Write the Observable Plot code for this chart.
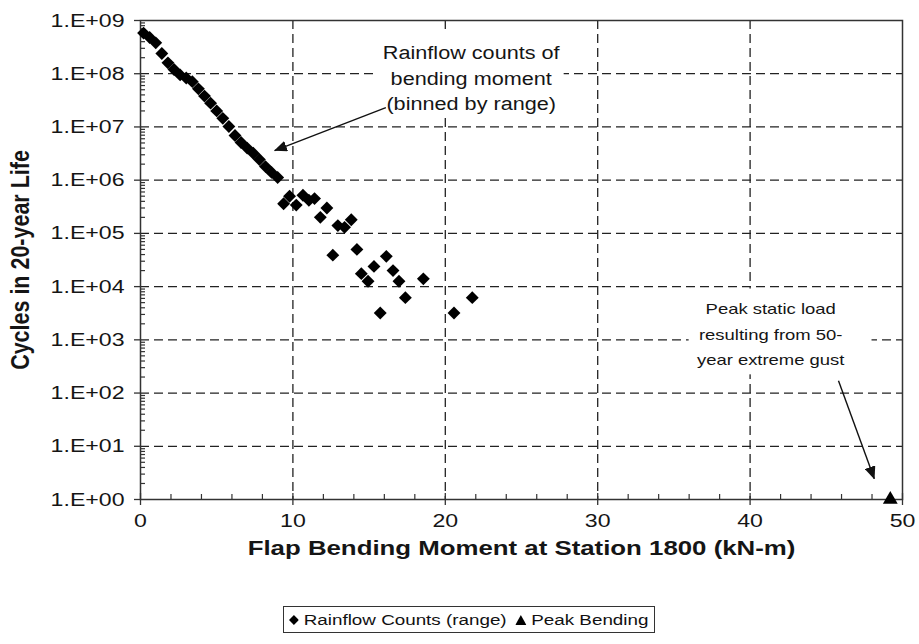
<!DOCTYPE html>
<html><head><meta charset="utf-8">
<script src="https://cdn.jsdelivr.net/npm/d3@7"></script>
<script src="https://cdn.jsdelivr.net/npm/@observablehq/plot@0.6"></script>
<style>
body{margin:0;background:#fff;font-family:"Liberation Sans",Arial,sans-serif;}
#wrap{width:919px;height:644px;position:relative;background:#fff;}
#legend{position:absolute;left:283px;top:606px;box-sizing:border-box;width:372px;height:27px;border:1px solid #333;overflow:hidden;}
#legend .inner{position:absolute;left:5px;top:0;height:25px;display:flex;align-items:center;font-size:15.3px;color:#111;white-space:nowrap;transform:scaleX(1.23);transform-origin:0 50%;}
#legend span.item{display:inline-flex;align-items:center;margin-right:7px;}
#legend span.item:last-child{margin-right:0;}
#legend svg{margin-right:4px;}
</style></head><body>
<div id="wrap"><div id="chart"></div><div id="legend"><div class="inner"></div></div></div>
<script>
// Rainflow counts (binned by range)
const rainflowX = [0.2,0.6,1.0,1.4,1.8,2.2,2.6,3.0,3.4,3.8,4.2,4.6,5.0,5.4,5.8,6.2,6.6,7.0,7.4,7.8,8.2,8.6,9.0,
  9.39,9.78,10.22,10.66,11.05,11.42,11.80,12.23,12.62,12.95,13.39,13.83,14.2,14.49,14.93,15.32,15.73,16.13,16.57,16.96,17.38,18.56,20.57,21.77];
const rainflowY = [5.8e8,4.8e8,3.8e8,2.4e8,1.6e8,1.2e8,9.5e7,8.3e7,7.1e7,5.2e7,3.8e7,2.8e7,2.0e7,1.45e7,1.02e7,6.9e6,5.1e6,4.0e6,3.2e6,2.45e6,1.8e6,1.4e6,1.12e6,
  3.6e5,5.0e5,3.4e5,5.2e5,4.2e5,4.5e5,2.0e5,3.0e5,3.9e4,1.4e5,1.3e5,1.8e5,5.0e4,1.75e4,1.26e4,2.4e4,3.2e3,3.7e4,2.0e4,1.26e4,6.2e3,1.4e4,3.2e3,6.2e3];
// Peak bending (50-year extreme gust)
const peakX = [49.2];
const peakY = [1];

// Axis ticks and labels
const xTicks = [0,10,20,30,40,50];
const xTickLabels = ["0","10","20","30","40","50"];
const xMinorTicks = [2,4,6,8,12,14,16,18,22,24,26,28,32,34,36,38,42,44,46,48];
const yTicks = [1,1e1,1e2,1e3,1e4,1e5,1e6,1e7,1e8,1e9];
const yTickLabels = ["1.E+00","1.E+01","1.E+02","1.E+03","1.E+04","1.E+05","1.E+06","1.E+07","1.E+08","1.E+09"];
const yMinorTicks = [];
for (let k = 0; k < 9; k++) for (let m = 2; m <= 9; m++) yMinorTicks.push(m * Math.pow(10, k));

// Annotations
const annoText = ["Rainflow counts of\nbending moment\n(binned by range)", "Peak static load\nresulting from 50-\nyear extreme gust"];
const annoX = [21.7, 41.35];
const annoY = [8.85e7, 1426];
const boxX1 = [15.5, 36.0], boxX2 = [27.8, 48.0];
const boxY1 = [1.6e7, 220], boxY2 = [5.6e8, 9000];
const arrowX1 = [16.1, 45.8], arrowY1 = [2.3e7, 170];
const arrowX2 = [8.8, 48.15], arrowY2 = [3.6e6, 2.45];

const xTitle = "Flap Bending Moment at Station 1800 (kN-m)";
const yTitle = "Cycles in 20-year Life";
const seriesNames = ["Rainflow Counts (range)", "Peak Bending"];

const rainflow = rainflowX.map((x, i) => ({x, y: rainflowY[i]}));
const peak = peakX.map((x, i) => ({x, y: peakY[i]}));
const annos = annoText.map((t, i) => ({t, x: annoX[i], y: annoY[i]}));
const boxes = boxX1.map((x1, i) => ({x1, x2: boxX2[i], y1: boxY1[i], y2: boxY2[i]}));
const arrows = arrowX1.map((x1, i) => ({x1, y1: arrowY1[i], x2: arrowX2[i], y2: arrowY2[i]}));

const ink = "#151515";
const gridStyle = {stroke: "#222", strokeOpacity: 1, strokeWidth: 1.3, strokeDasharray: "9,5"};
const stretch = 1.23;

const plot = Plot.plot({
  width: 919, height: 590,
  marginLeft: 140, marginRight: 17, marginTop: 20, marginBottom: 91,
  style: {fontFamily: "'Liberation Sans', Arial, sans-serif", fontSize: "18px", color: ink, background: "white", overflow: "visible"},
  x: {domain: [0, 50], label: null},
  y: {type: "log", domain: [1, 1e9], label: null},
  marks: [
    Plot.gridX(xTicks.slice(1, -1), gridStyle),
    Plot.gridY(yTicks.slice(1, -1), gridStyle),
    Plot.rect(boxes, {x1: "x1", x2: "x2", y1: "y1", y2: "y2", fill: "white"}),
    Plot.frame({stroke: "#333", strokeWidth: 1.5}),
    Plot.axisX(xTicks, {tickSize: 6, tickPadding: 8, fontSize: 18.8, tickFormat: d => xTickLabels[xTicks.indexOf(d)], label: null, stroke: "#333", strokeWidth: 1.3}),
    Plot.axisX(xTicks, {tickSize: -6, tickFormat: () => "", label: null, stroke: "#333", strokeWidth: 1.3}),
    Plot.axisX(xMinorTicks, {tickSize: -5, tickFormat: () => "", label: null, stroke: "#333", strokeWidth: 1.2}),
    Plot.axisY(yTicks, {tickSize: 6, tickPadding: 10, fontSize: 18.8, tickFormat: d => yTickLabels[yTicks.indexOf(d)], label: null, stroke: "#333", strokeWidth: 1.3}),
    Plot.axisY(yMinorTicks, {tickSize: -5, tickFormat: () => "", label: null, stroke: "#333", strokeWidth: 1.2}),
    Plot.dot(rainflow, {x: "x", y: "y", symbol: "diamond2", r: 5.8, fill: "#000", stroke: null}),
    Plot.dot(peak, {x: "x", y: "y", symbol: "triangle", r: 5.5, fill: "#000", stroke: null}),
    Plot.text(annos.slice(0, 1), {x: "x", y: "y", text: "t", fontSize: 17.6, lineHeight: 1.45, fill: ink, textAnchor: "middle"}),
    Plot.text(annos.slice(1), {x: "x", y: "y", text: "t", fontSize: 15, lineHeight: 1.68, fill: ink, textAnchor: "middle"}),
    Plot.link(arrows, {x1: "x1", y1: "y1", x2: "x2", y2: "y2", stroke: "#111", strokeWidth: 1.4}),
    Plot.text([xTitle], {frameAnchor: "bottom", dy: 55, fontWeight: "bold", fontSize: 21, fill: ink}),
    Plot.text([yTitle], {frameAnchor: "left", dx: -120, rotate: -90, textAnchor: "middle", fontWeight: "bold", fontSize: 21.5, fill: ink})
  ]
});

// horizontal stretch of lettering (as in the reference)
plot.querySelectorAll("text").forEach(t => {
  const tr = t.getAttribute("transform") || "";
  const rotated = /rotate/.test(tr);
  t.setAttribute("transform", tr + (rotated ? ` scale(1,${stretch})` : ` scale(${stretch},1)`));
});

// filled arrowheads
const ns = "http://www.w3.org/2000/svg";
const defs = document.createElementNS(ns, "defs");
defs.innerHTML = '<marker id="ahead" viewBox="0 0 10 10" refX="9.5" refY="5" markerWidth="13" markerHeight="11" markerUnits="userSpaceOnUse" orient="auto" preserveAspectRatio="none"><path d="M0,0L10,5L0,10z" fill="#111"/></marker>';
plot.insertBefore(defs, plot.firstChild);
plot.querySelectorAll('g[aria-label="link"] path, g[aria-label="link"] line').forEach(p => p.setAttribute("marker-end", "url(#ahead)"));

document.getElementById("chart").appendChild(plot);

// legend
const legend = document.querySelector("#legend .inner");
const syms = [
  '<svg width="8" height="10" viewBox="-5 -5 10 10" preserveAspectRatio="none"><path d="M0,-5L5,0L0,5L-5,0z" fill="#000"/></svg>',
  '<svg width="9" height="10" viewBox="-5.5 -5 11 10" preserveAspectRatio="none"><path d="M0,-5L5.5,5L-5.5,5z" fill="#000"/></svg>'
];
seriesNames.forEach((n, i) => {
  const s = document.createElement("span");
  s.className = "item";
  s.innerHTML = syms[i] + n;
  legend.appendChild(s);
});
</script>
</body></html>
